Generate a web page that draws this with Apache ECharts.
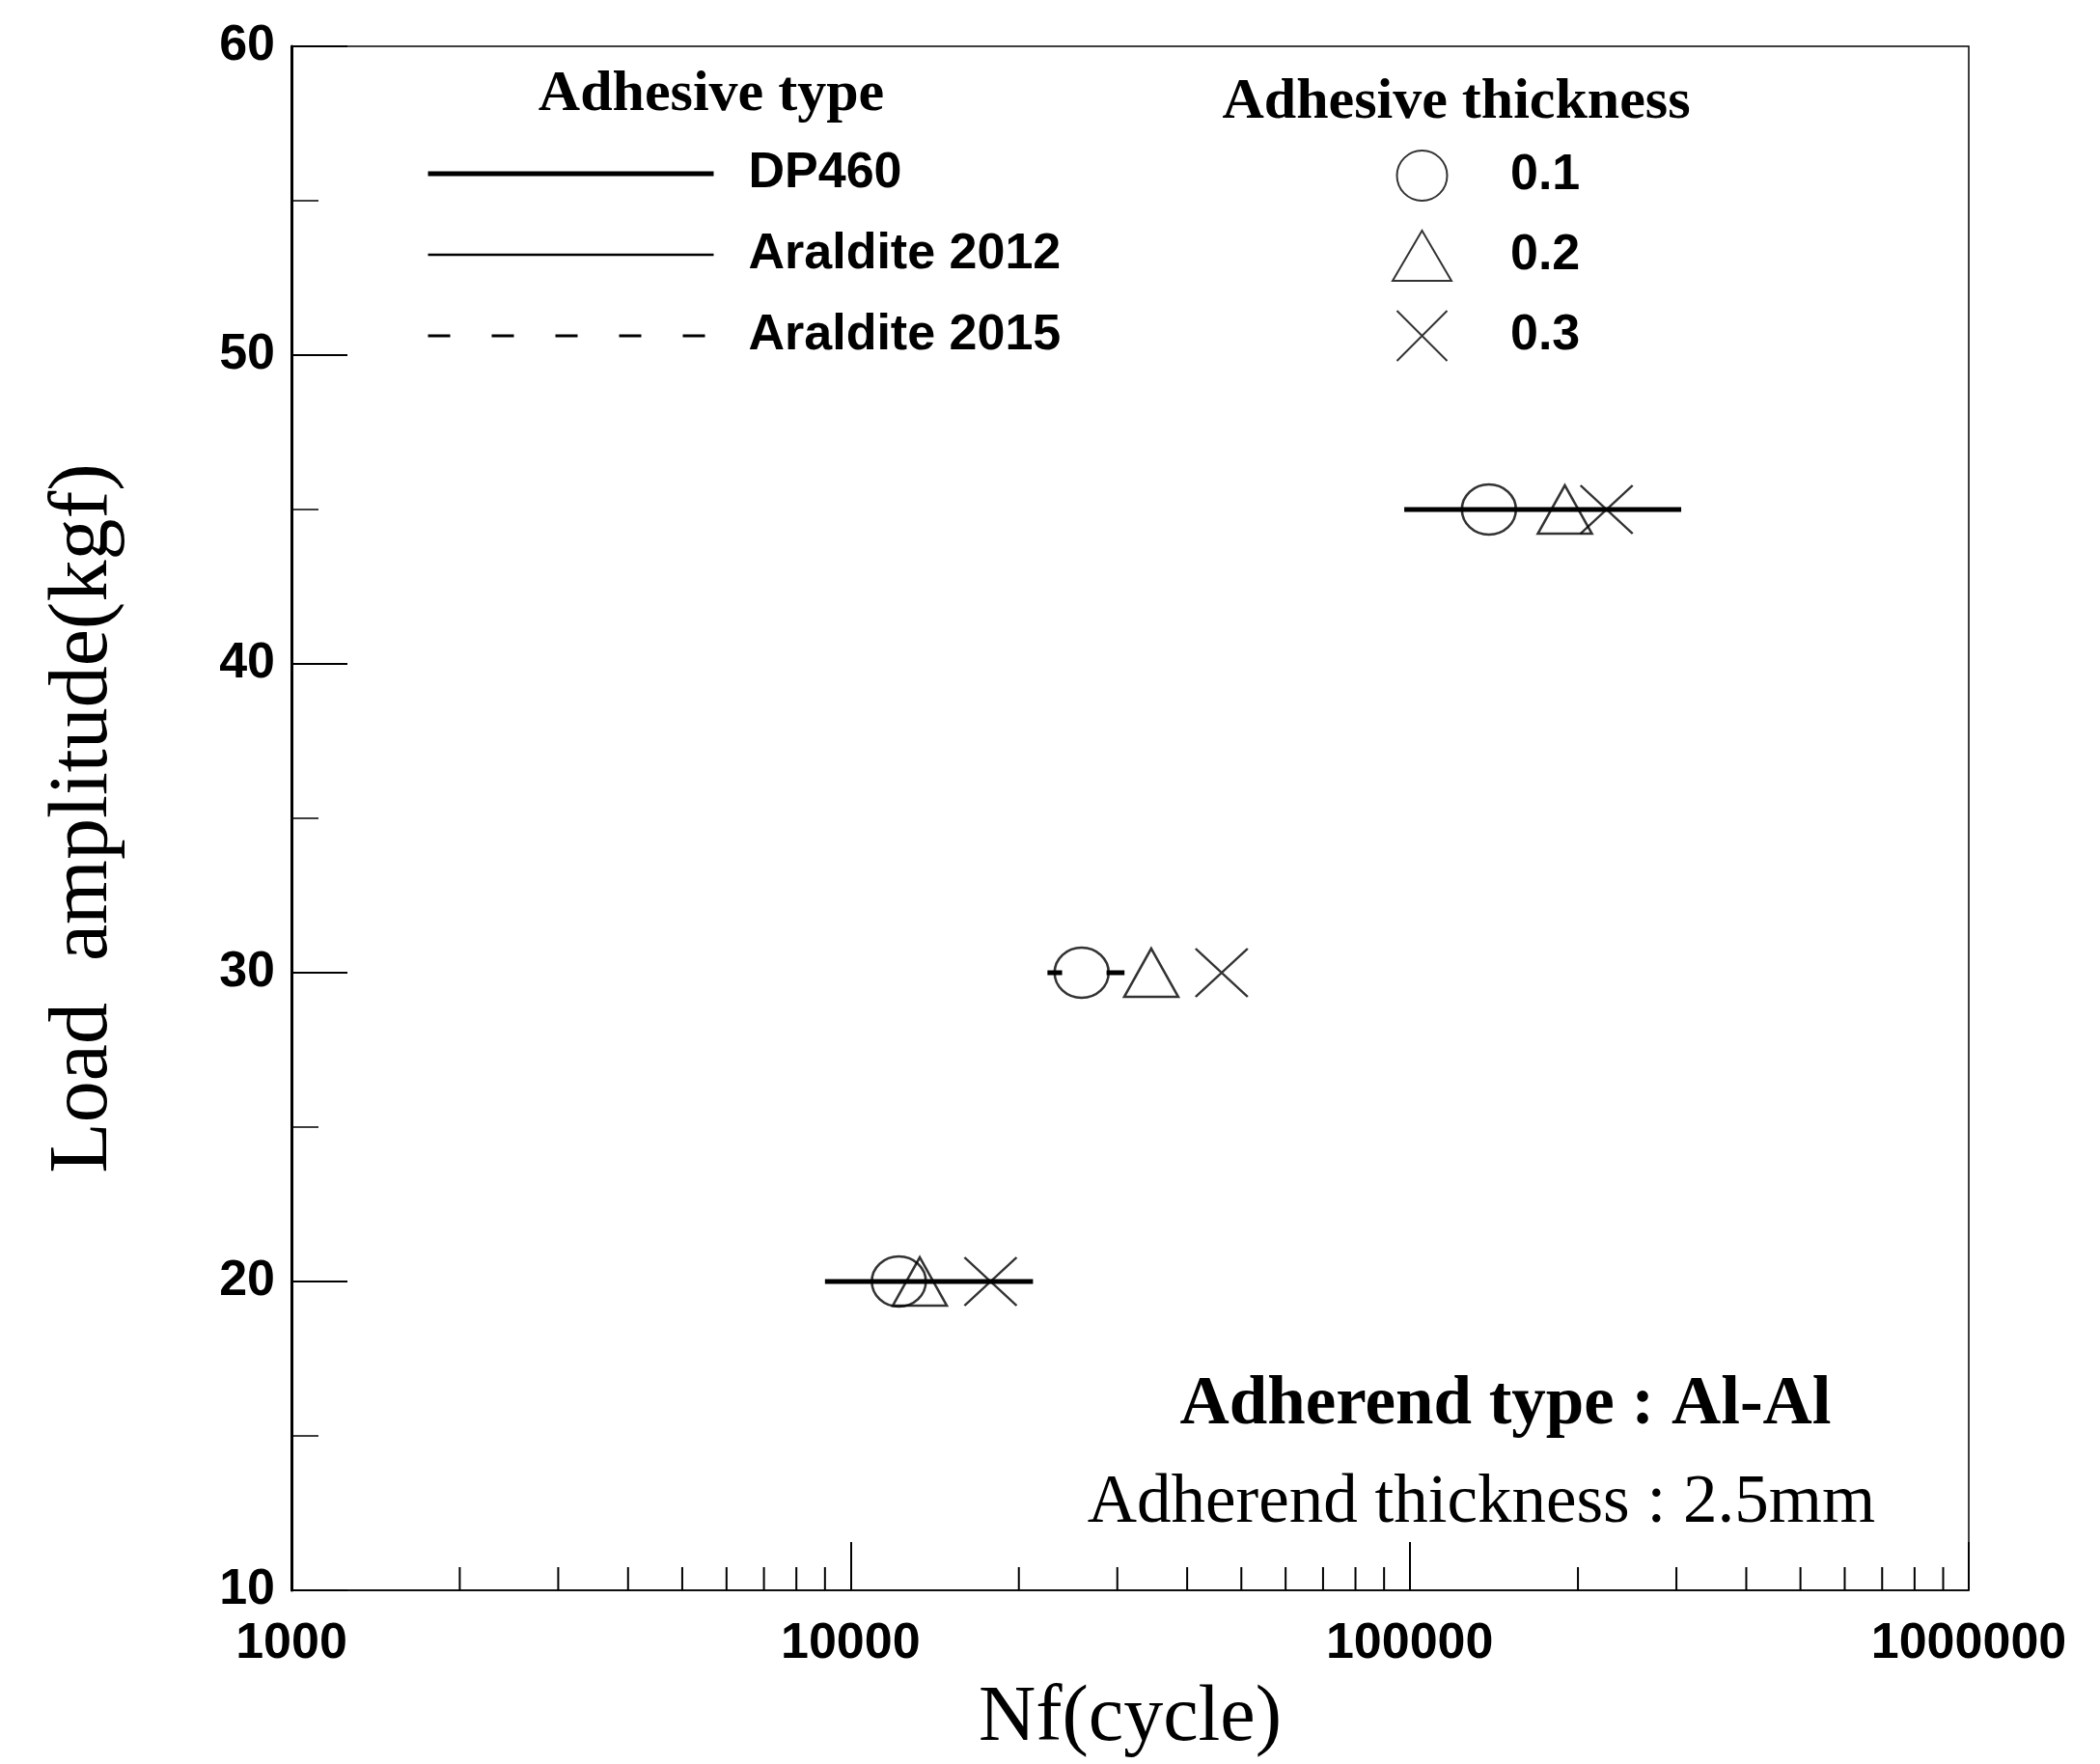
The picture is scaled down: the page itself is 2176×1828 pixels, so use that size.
<!DOCTYPE html>
<html>
<head>
<meta charset="utf-8">
<script src="https://cdn.jsdelivr.net/npm/echarts@6/dist/echarts.min.js"></script>
<style>
  html, body { margin: 0; padding: 0; background: #ffffff; }
  #chart { width: 2176px; height: 1828px; }
</style>
</head>
<body>
<div id="chart"></div>
<script>
// Fatigue life of Al-Al single-lap joints, DP460 adhesive
const loadLevels = [20, 30, 45];                 // load amplitude (kgf)
const cyclesT01 = [12200, 25900, 138600];        // adhesive thickness 0.1 mm
const cyclesT02 = [13300, 34500, 189500];        // adhesive thickness 0.2 mm
const cyclesT03 = [17800, 46100, 225000];        // adhesive thickness 0.3 mm

// DP460 trend segments: start cycle, end cycle, load
const dp460Start = [9000, 22500, 28700, 97800];
const dp460End   = [21200, 23900, 30900, 306000];
const dp460Load  = [20, 30, 30, 45];

const adhesiveTypes = ['DP460', 'Araldite 2012', 'Araldite 2015'];
const adhesiveLineWidths = [5, 2.5, 3];
const thicknessNames = ['0.1', '0.2', '0.3'];

const xTickValues = [1000, 10000, 100000, 1000000];
const xTickLabels = ['1000', '10000', '100000', '1000000'];
const xMinorTicks = [2000, 3000, 4000, 5000, 6000, 7000, 8000, 9000,
                     20000, 30000, 40000, 50000, 60000, 70000, 80000, 90000,
                     200000, 300000, 400000, 500000, 600000, 700000, 800000, 900000];

const pairs = (xs) => xs.map((x, i) => [x, loadLevels[i]]);

const dp460Data = [];
dp460Start.forEach((s, i) => {
  dp460Data.push([s, dp460Load[i]], [dp460End[i], dp460Load[i]], null);
});

const xLabelFor = (v) => {
  const k = xTickValues.findIndex(t => Math.abs(t - v) / t < 1e-6);
  return k >= 0 ? xTickLabels[k] : '';
};

const markerStyle = { color: 'transparent', borderColor: '#000', borderWidth: 2.5 };
const crossPath = 'path://M0,0L10,10M10,0L0,10';

const chart = echarts.init(document.getElementById('chart'), null, { renderer: 'canvas' });

chart.setOption({
  backgroundColor: '#ffffff',
  animation: false,
  grid: {
    left: 302, top: 48, right: 136, bottom: 180,
    show: true, borderColor: '#000', borderWidth: 1.5
  },
  xAxis: {
    type: 'log', logBase: 10, min: 1000, max: 1000000,
    name: 'Nf(cycle)', nameLocation: 'middle', nameGap: 92,
    nameTextStyle: { fontFamily: 'Liberation Serif', fontSize: 82, color: '#000' },
    axisLine: { show: true, lineStyle: { color: '#000', width: 1.5 } },
    axisTick: { show: true, inside: true, length: 50, lineStyle: { color: '#000', width: 2 } },
    axisLabel: {
      margin: 30, color: '#000', fontFamily: 'Liberation Sans', fontWeight: 'bold', fontSize: 52,
      showMinLabel: true, showMaxLabel: true,
      formatter: (v) => xLabelFor(v)
    },
    splitLine: { show: false }
  },
  yAxis: {
    type: 'value', min: 10, max: 60, interval: 10,
    name: 'Load  amplitude(kgf)', nameLocation: 'middle', nameGap: 172,
    nameTextStyle: { fontFamily: 'Liberation Serif', fontSize: 86, color: '#000' },
    axisLine: { show: true, lineStyle: { color: '#000', width: 3 } },
    axisTick: { show: true, inside: true, length: 58, lineStyle: { color: '#000', width: 2 } },
    minorTick: { show: true, splitNumber: 2, length: 28, lineStyle: { color: '#000', width: 1.5 } },
    axisLabel: {
      margin: 17, color: '#000', fontFamily: 'Liberation Sans', fontWeight: 'bold', fontSize: 52
    },
    splitLine: { show: false }
  },
  legend: [
    {
      data: adhesiveTypes.map((n, i) => ({ name: n, lineStyle: { width: adhesiveLineWidths[i] } })),
      orient: 'vertical', left: 436, top: 149,
      itemWidth: 296, itemHeight: 30, itemGap: 32,
      itemStyle: { opacity: 0 },
      lineStyle: { width: 'inherit' },
      textStyle: { fontFamily: 'Liberation Sans', fontWeight: 'bold', fontSize: 52, color: '#000', padding: [0, 0, 0, 31] },
      selectedMode: false
    },
    {
      data: thicknessNames, orient: 'vertical', left: 1437, top: 150,
      itemWidth: 61, itemHeight: 52, itemGap: 29,
      textStyle: { fontFamily: 'Liberation Sans', fontWeight: 'bold', fontSize: 52, color: '#000', padding: [0, 0, 0, 56] },
      selectedMode: false
    }
  ],
  graphic: [
    { type: 'text', x: 737, y: 98, silent: true,
      style: { text: 'Adhesive type', font: 'bold 60px "Liberation Serif"', fill: '#000',
               textAlign: 'center', align: 'center', textVerticalAlign: 'middle', verticalAlign: 'middle' } },
    { type: 'text', x: 1509, y: 106, silent: true,
      style: { text: 'Adhesive thickness', font: 'bold 60px "Liberation Serif"', fill: '#000',
               textAlign: 'center', align: 'center', textVerticalAlign: 'middle', verticalAlign: 'middle' } },
    { type: 'text', x: 1560, y: 1457, silent: true,
      style: { text: 'Adherend type : Al-Al', font: 'bold 71px "Liberation Serif"', fill: '#000',
               textAlign: 'center', align: 'center', textVerticalAlign: 'middle', verticalAlign: 'middle' } },
    { type: 'text', x: 1535, y: 1558, silent: true,
      style: { text: 'Adherend thickness : 2.5mm', font: '71px "Liberation Serif"', fill: '#000',
               textAlign: 'center', align: 'center', textVerticalAlign: 'middle', verticalAlign: 'middle' } }
  ],
  series: [
    {
      name: 'DP460', type: 'line', data: dp460Data, symbol: 'none', connectNulls: false,
      lineStyle: { color: '#000', width: 5 }, itemStyle: { color: '#000' }, z: 2
    },
    {
      name: 'Araldite 2012', type: 'line', data: [], symbol: 'none',
      lineStyle: { color: '#000', width: 2.5 }, itemStyle: { color: '#000' }
    },
    {
      name: 'Araldite 2015', type: 'line', data: [], symbol: 'none',
      lineStyle: { color: '#000', width: 3, type: [23, 43] }, itemStyle: { color: '#000' }
    },
    {
      name: '0.1', type: 'scatter', data: pairs(cyclesT01), symbol: 'circle',
      symbolSize: [56, 52], itemStyle: markerStyle, z: 4
    },
    {
      name: '0.2', type: 'scatter', data: pairs(cyclesT02), symbol: 'triangle',
      symbolSize: [56, 50], itemStyle: markerStyle, z: 4
    },
    {
      name: '0.3', type: 'scatter', data: pairs(cyclesT03), symbol: crossPath,
      symbolSize: [54, 50], itemStyle: markerStyle, z: 4
    },
    {
      name: 'xMinorTicks', type: 'custom', silent: true, clip: false, z: 3,
      data: xMinorTicks.map(v => [v, 10]),
      encode: { x: 0, y: 1 },
      renderItem: (params, api) => {
        const p = api.coord([api.value(0), api.value(1)]);
        return {
          type: 'line',
          shape: { x1: p[0], y1: p[1], x2: p[0], y2: p[1] - 24 },
          style: { stroke: '#000', lineWidth: 2 }
        };
      }
    }
  ]
});
</script>
</body>
</html>
